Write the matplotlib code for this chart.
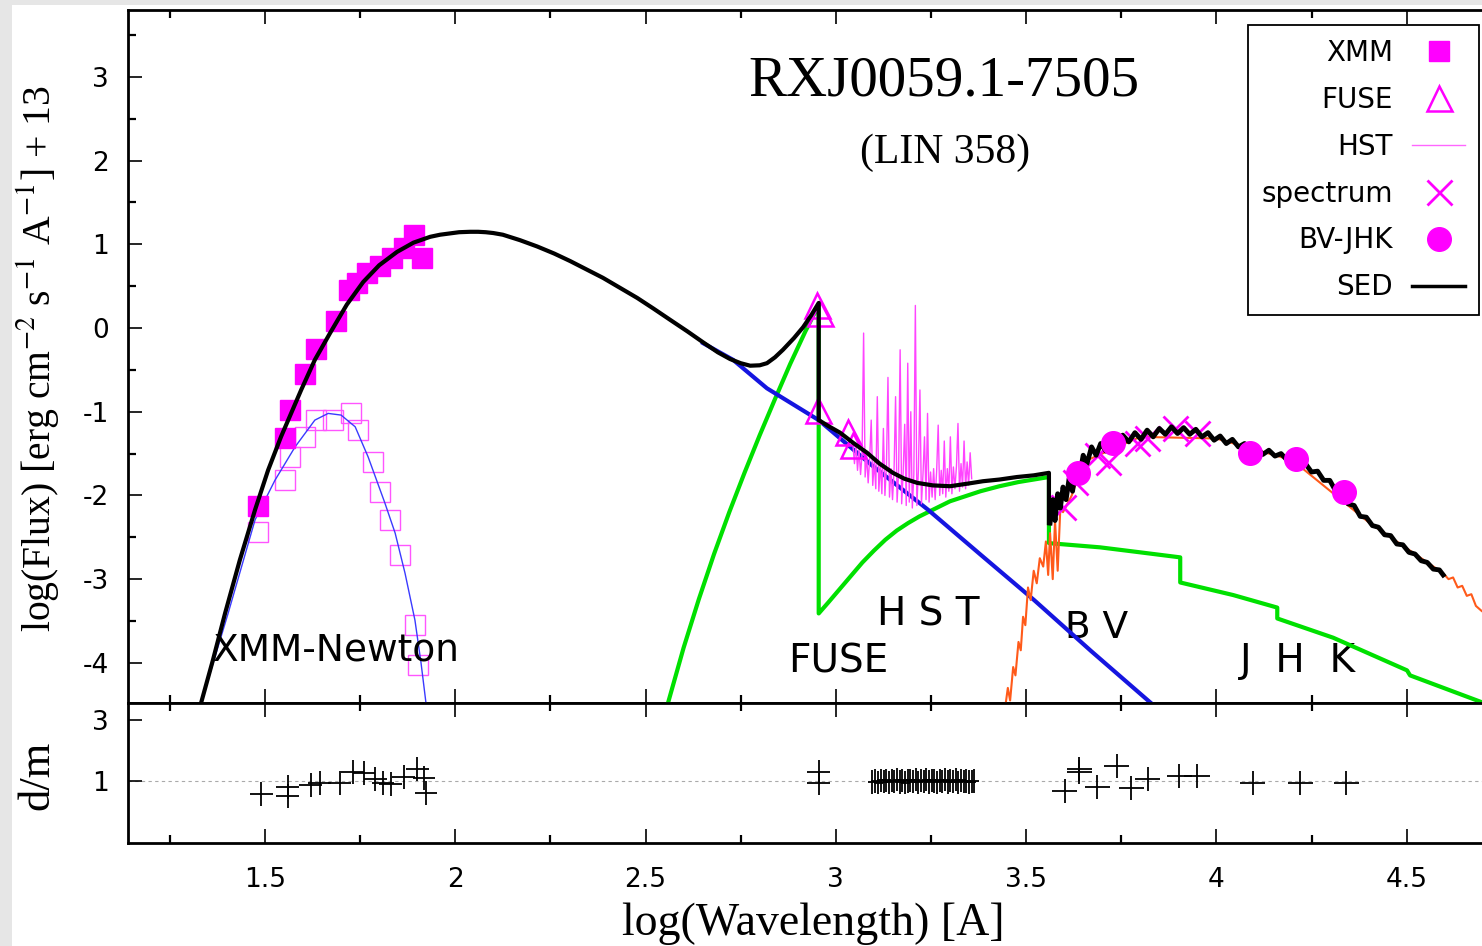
import matplotlib
matplotlib.use('Agg')
import matplotlib.pyplot as plt
from matplotlib.lines import Line2D
from matplotlib.patches import Rectangle
from matplotlib.ticker import MultipleLocator, NullLocator, FormatStrFormatter

plt.rcParams['font.family'] = ['DejaVu Sans']
plt.rcParams['axes.unicode_minus'] = False
plt.rcParams['mathtext.fontset'] = 'stix'

############################# Data #############################

# XMM points (filled = absorbed fit, open = observed)
xmm_x = [1.482, 1.553, 1.566, 1.605, 1.634, 1.687, 1.721, 1.742, 1.768, 1.802, 1.834, 1.865, 1.891, 1.913]
xmm_y = [-2.13, -1.31, -0.98, -0.55, -0.25, 0.08, 0.45, 0.54, 0.66, 0.74, 0.84, 0.96, 1.11, 0.84]
xmm_open_x = [1.482, 1.553, 1.566, 1.605, 1.634, 1.679, 1.726, 1.744, 1.784, 1.802, 1.829, 1.855, 1.894, 1.902]
xmm_open_y = [-2.44, -1.82, -1.54, -1.30, -1.10, -1.10, -1.02, -1.22, -1.60, -1.96, -2.29, -2.71, -3.55, -4.03]

# thin blue blackbody through the open XMM points
bb_x = [1.332, 1.403, 1.474, 1.526, 1.579, 1.631, 1.666, 1.700, 1.737, 1.771, 1.815, 1.842, 1.868, 1.894, 1.910, 1.923]
bb_y = [-4.48, -3.41, -2.29, -1.82, -1.42, -1.10, -1.02, -1.04, -1.18, -1.54, -2.09, -2.45, -2.93, -3.49, -4.00, -4.48]

# SED model (black)
sed_x = [1.332, 1.363, 1.395, 1.434, 1.474, 1.508, 1.542, 1.595, 1.631, 1.671, 1.715, 1.758, 1.800,
         1.847, 1.890, 1.934, 1.960, 1.985, 2.010, 2.039, 2.060, 2.080, 2.100, 2.125, 2.170, 2.215,
         2.260, 2.302, 2.345, 2.388, 2.433, 2.478, 2.520, 2.564, 2.610, 2.651, 2.690, 2.722, 2.750,
         2.775, 2.800, 2.819, 2.840, 2.861, 2.890, 2.914, 2.935, 2.955, 2.955, 2.980, 3.011, 3.045,
         3.082, 3.115, 3.150, 3.180, 3.214, 3.255, 3.300, 3.345, 3.387, 3.430, 3.476, 3.520, 3.560, 3.560]
sed_y = [-4.48, -3.97, -3.41, -2.77, -2.17, -1.70, -1.30, -0.74, -0.38, -0.06, 0.28, 0.55, 0.75,
         0.91, 1.02, 1.09, 1.115, 1.13, 1.145, 1.15, 1.15, 1.145, 1.135, 1.115, 1.05, 0.975,
         0.89, 0.80, 0.70, 0.60, 0.48, 0.36, 0.235, 0.10, -0.04, -0.17, -0.29, -0.37, -0.42,
         -0.45, -0.445, -0.42, -0.35, -0.26, -0.12, 0.01, 0.15, 0.30, -1.10, -1.17, -1.25, -1.37,
         -1.49, -1.62, -1.73, -1.80, -1.85, -1.88, -1.89, -1.86, -1.83, -1.81, -1.78, -1.76, -1.73, -2.33]

# hot component (blue)
hot_x = [2.651, 2.730, 2.819, 2.955, 3.092, 3.242, 3.381, 3.521, 3.671, 3.828]
hot_y = [-0.18, -0.38, -0.72, -1.10, -1.63, -2.17, -2.71, -3.25, -3.86, -4.48]

# nebular component (green)
neb_x = [2.559, 2.600, 2.640, 2.680, 2.720, 2.760, 2.800, 2.840, 2.880, 2.920, 2.955, 2.955,
         2.980, 3.010, 3.040, 3.070, 3.100, 3.130, 3.160, 3.190, 3.220, 3.260, 3.300, 3.340, 3.380,
         3.430, 3.480, 3.520, 3.560, 3.560, 3.694, 3.800, 3.905, 3.905, 4.044, 4.160, 4.160, 4.307,
         4.501, 4.509, 4.697]
neb_y = [-4.48, -3.82, -3.24, -2.70, -2.20, -1.73, -1.28, -0.85, -0.43, -0.04, 0.275, -3.41,
         -3.28, -3.12, -2.96, -2.80, -2.66, -2.53, -2.42, -2.33, -2.25, -2.16, -2.07, -2.01, -1.95,
         -1.89, -1.84, -1.81, -1.78, -2.57, -2.62, -2.68, -2.74, -3.04, -3.19, -3.34, -3.47, -3.70,
         -4.09, -4.15, -4.47]

# FUSE points
fuse_x = [2.951, 2.959, 2.953, 3.032, 3.045]
fuse_y = [0.27, 0.18, -0.98, -1.24, -1.40]

# HST spectrum
hst_x = [3.045, 3.049, 3.053, 3.057, 3.061, 3.065, 3.069, 3.073, 3.077, 3.081, 3.085, 3.089, 3.093,
         3.097, 3.101, 3.105, 3.109, 3.113, 3.117, 3.121, 3.125, 3.129, 3.133, 3.137, 3.141, 3.145,
         3.149, 3.153, 3.157, 3.161, 3.165, 3.169, 3.173, 3.177, 3.181, 3.185, 3.189, 3.193, 3.197,
         3.201, 3.205, 3.209, 3.213, 3.217, 3.221, 3.225, 3.229, 3.233, 3.237, 3.241, 3.245, 3.249,
         3.253, 3.257, 3.261, 3.265, 3.269, 3.273, 3.277, 3.281, 3.285, 3.289, 3.293, 3.297, 3.301,
         3.305, 3.309, 3.313, 3.317, 3.321, 3.325, 3.329, 3.333, 3.337, 3.341, 3.345, 3.349, 3.353, 3.357]
hst_y = [-1.40, -1.62, -1.38, -1.70, -1.45, -1.75, -1.50, -0.06, -1.78, -1.52, -1.85, -1.55, -1.10,
         -1.88, -1.60, -1.92, -0.82, -1.95, -1.62, -1.98, -1.20, -2.00, -1.65, -0.59, -2.02, -1.68,
         -2.05, -1.70, -0.82, -2.08, -1.72, -0.26, -2.10, -1.72, -1.15, -2.12, -0.42, -2.08, -1.00,
         -2.15, -1.75, 0.27, -2.12, -1.70, -0.74, -2.10, -1.75, -1.30, -2.05, -1.02, -2.08, -1.72,
         -2.02, -1.68, -2.05, -1.70, -1.16, -2.00, -1.70, -1.98, -1.35, -2.02, -1.68, -1.95, -1.30,
         -1.98, -1.66, -1.92, -1.65, -1.14, -1.95, -1.62, -1.90, -1.35, -1.92, -1.60, -1.88, -1.49, -1.80]

# optical/IR spectrum (black) and the extended one (orange)
opt_x = [3.563, 3.570, 3.576, 3.583, 3.590, 3.597, 3.605, 3.613, 3.622, 3.630, 3.640, 3.650, 3.660,
         3.672, 3.684, 3.696, 3.710, 3.724, 3.739, 3.754, 3.770, 3.786, 3.802, 3.818, 3.834, 3.850,
         3.866, 3.882, 3.898, 3.914, 3.930, 3.946, 3.962, 3.978, 3.994, 4.010, 4.026, 4.042, 4.058,
         4.074, 4.090, 4.106, 4.122, 4.138, 4.154, 4.170, 4.186, 4.202, 4.218, 4.234, 4.250, 4.266,
         4.282, 4.298, 4.314, 4.330, 4.346, 4.362, 4.378, 4.394, 4.410, 4.426, 4.442, 4.458, 4.474,
         4.490, 4.506, 4.522, 4.538, 4.554, 4.570, 4.586, 4.596]
opt_y = [-2.33, -2.05, -2.30, -1.98, -2.15, -1.90, -2.05, -1.80, -1.95, -1.70, -1.78, -1.52, -1.62,
         -1.42, -1.52, -1.38, -1.47, -1.33, -1.40, -1.28, -1.36, -1.25, -1.33, -1.22, -1.30, -1.20,
         -1.27, -1.18, -1.26, -1.19, -1.27, -1.21, -1.30, -1.25, -1.34, -1.29, -1.38, -1.33, -1.42,
         -1.38, -1.48, -1.43, -1.51, -1.46, -1.53, -1.50, -1.58, -1.55, -1.65, -1.62, -1.72, -1.71,
         -1.82, -1.82, -1.95, -1.98, -2.10, -2.12, -2.25, -2.26, -2.36, -2.38, -2.47, -2.48, -2.58,
         -2.59, -2.68, -2.70, -2.78, -2.80, -2.88, -2.89, -2.95]
red_x = [3.440, 3.452, 3.458, 3.466, 3.472, 3.480, 3.486, 3.492, 3.498, 3.505, 3.512, 3.520, 3.528,
         3.536, 3.545, 3.552, 3.558, 3.563, 3.570, 3.576, 3.583, 3.590, 3.597, 3.620, 3.650, 3.800,
         4.000, 4.200, 4.400, 4.596, 4.610, 4.622, 4.634, 4.646, 4.658, 4.670, 4.682, 4.697]
red_y = [-4.70, -4.30, -4.45, -4.05, -4.15, -3.75, -3.85, -3.45, -3.55, -3.10, -3.25, -2.90, -3.05,
         -2.75, -2.85, -2.55, -2.95, -2.45, -3.00, -2.30, -2.90, -2.15, -2.20, -2.00, -1.60, -1.30,
         -1.32, -1.58, -2.32, -2.93, -3.00, -2.98, -3.10, -3.08, -3.20, -3.18, -3.32, -3.38]

# spectrum synthetic points (x) and BV-JHK photometry (dots)
spec_x = [3.597, 3.629, 3.687, 3.716, 3.792, 3.818, 3.892, 3.949]
spec_y = [-2.14, -1.84, -1.52, -1.60, -1.37, -1.31, -1.19, -1.25]
phot_x = [3.637, 3.729, 4.089, 4.210, 4.336]
phot_y = [-1.73, -1.37, -1.49, -1.57, -1.96]

# d/m residuals
dm_xmm_x = [1.490, 1.560, 1.560, 1.620, 1.644, 1.696, 1.731, 1.760, 1.790, 1.810, 1.830, 1.865, 1.900, 1.918, 1.923]
dm_xmm_y = [0.57, 0.51, 0.80, 0.87, 0.93, 0.93, 1.30, 1.26, 1.07, 0.93, 0.90, 1.13, 1.39, 1.10, 0.61]
dm_fuse_x = [2.955, 2.955]
dm_fuse_y = [1.30, 0.94]
dm_hst_x = [3.096, 3.104, 3.112, 3.119, 3.126, 3.133, 3.140, 3.147, 3.154, 3.161, 3.168, 3.175, 3.182,
            3.189, 3.196, 3.203, 3.210, 3.217, 3.224, 3.231, 3.238, 3.245, 3.252, 3.259, 3.266, 3.273,
            3.280, 3.287, 3.294, 3.301, 3.308, 3.315, 3.322, 3.329, 3.336, 3.343, 3.350, 3.357, 3.364]
dm_hst_y = [0.97, 1.00, 0.95, 1.02, 0.98, 1.03, 0.96, 1.01, 0.99, 1.04, 0.97, 1.02, 0.95,
            1.00, 1.03, 0.98, 1.05, 0.96, 1.01, 0.99, 1.04, 0.97, 1.02, 1.00, 0.96, 1.03,
            0.99, 1.05, 0.97, 1.01, 0.98, 1.04, 0.96, 1.02, 0.99, 1.00, 0.97, 0.98, 1.00]
dm_opt_x = [3.602, 3.640, 3.640, 3.687, 3.738, 3.776, 3.820, 3.902, 3.949, 4.096, 4.220, 4.341]
dm_opt_y = [0.68, 1.39, 1.30, 0.81, 1.49, 0.77, 1.07, 1.16, 1.16, 0.93, 0.93, 0.94]

leg_labels = ['XMM', 'FUSE', 'HST', 'spectrum', 'BV-JHK', 'SED']

############################# Plot #############################

MAG = '#ff00ff'
W, H = 1482, 946
fig = plt.figure(figsize=(W / 100, H / 100), dpi=100)
fig.patch.set_facecolor('#e6e6e6')
fig.add_artist(Rectangle((12 / W, 0), 1, 1 - 5 / H, transform=fig.transFigure,
                         facecolor='white', edgecolor='none', zorder=-10))

ax = fig.add_axes([128 / W, 1 - 703 / H, 1 - 128 / W, (703 - 10) / H])
ax2 = fig.add_axes([128 / W, 1 - 843 / H, 1 - 128 / W, 140 / H], sharex=ax)

ax.plot(xmm_open_x, xmm_open_y, ls='none', marker='s', ms=15, mfc='none', mec='#ff55ff', mew=1, zorder=2)
ax.plot(bb_x, bb_y, color='#3a3aff', lw=1, zorder=3)
ax.plot(xmm_x, xmm_y, ls='none', marker='s', ms=14, color=MAG, zorder=3)
ax.plot(neb_x, neb_y, color='#00e000', lw=3, zorder=4)
ax.plot(hot_x, hot_y, color='#1515e0', lw=3, zorder=4)
ax.plot(hst_x, hst_y, color='#ff44ff', lw=1, zorder=5)
ax.plot(fuse_x, fuse_y, ls='none', marker='^', ms=18, mfc='none', mec=MAG, mew=1.8, zorder=5)
ax.plot(red_x, red_y, color='#ff5a1a', lw=1.5, zorder=5)
ax.plot(spec_x, spec_y, ls='none', marker='x', ms=18, mew=2, color=MAG, zorder=6)
ax.plot(opt_x, opt_y, color='black', lw=3.5, zorder=7)
ax.plot(sed_x, sed_y, color='black', lw=3, zorder=7)
ax.plot(phot_x, phot_y, ls='none', marker='o', ms=17, color=MAG, zorder=8)

ax.text(1.363, -3.97, 'XMM-Newton', fontsize=27, va='baseline')
ax.text(2.875, -4.12, 'FUSE', fontsize=28, va='baseline')
ax.text(3.108, -3.55, 'H S T', fontsize=28, va='baseline')
ax.text(3.602, -3.70, 'B V', fontsize=27, va='baseline')
ax.text(4.062, -4.11, 'J  H  K', fontsize=28, va='baseline')
ax.text(3.283, 2.784, 'RXJ0059.1-7505', fontsize=41, family='Liberation Serif', ha='center', va='baseline')
ax.text(3.288, 1.97, '(LIN 358)', fontsize=30, family='Liberation Serif', ha='center', va='baseline')

handles = [Line2D([], [], ls='none', marker='s', ms=14, color=MAG),
           Line2D([], [], ls='none', marker='^', ms=18, mfc='none', mec=MAG, mew=1.8),
           Line2D([], [], color='#ff66ff', lw=1),
           Line2D([], [], ls='none', marker='x', ms=18, mew=2, color=MAG),
           Line2D([], [], ls='none', marker='o', ms=17, color=MAG),
           Line2D([], [], color='black', lw=2.5)]
leg = ax.legend(handles, leg_labels, loc='upper right', bbox_to_anchor=(1479 / W, 1 - 25 / H),
                bbox_transform=fig.transFigure, markerfirst=False, fancybox=False, fontsize=20,
                handlelength=1.9, handletextpad=0.7, labelspacing=0.68, borderpad=0.5,
                borderaxespad=0, framealpha=1)
leg.get_frame().set_edgecolor('black')
leg.get_frame().set_linewidth(1.3)
leg.set_zorder(20)

eb = dict(fmt='none', ecolor='black', elinewidth=1.3, capsize=0)
ax2.axhline(1, color='#aaaaaa', lw=0.8, ls=(0, (3, 3)), zorder=1)
ax2.errorbar(dm_xmm_x, dm_xmm_y, xerr=0.03, yerr=0.4, **eb)
ax2.errorbar(dm_fuse_x, dm_fuse_y, xerr=0.03, yerr=0.4, **eb)
ax2.errorbar(dm_hst_x, dm_hst_y, xerr=0.012, yerr=0.38, **eb)
ax2.errorbar(dm_opt_x, dm_opt_y, xerr=0.033, yerr=0.4, **eb)

ax.set_xlim(1.14, 4.698)
ax.set_ylim(-4.48, 3.8)
ax2.set_ylim(-1.03, 3.56)
for a in (ax, ax2):
    a.spines['right'].set_visible(False)
    for s in ('left', 'top', 'bottom'):
        a.spines[s].set_linewidth(2)
    a.xaxis.set_major_locator(MultipleLocator(0.5))
    a.xaxis.set_minor_locator(MultipleLocator(0.25))
    a.xaxis.set_major_formatter(FormatStrFormatter('%g'))
    a.tick_params(which='both', direction='in', top=True, bottom=True, right=False)
    a.tick_params(which='major', length=10, width=1.2, labelsize=19, pad=14)
    a.tick_params(which='minor', length=6, width=1.6)
ax.set_yticks([-4, -3, -2, -1, 0, 1, 2, 3])
ax.yaxis.set_minor_locator(MultipleLocator(0.5))
ax.tick_params(labelbottom=False)
ax2.set_yticks([1, 3])
ax2.yaxis.set_minor_locator(NullLocator())
ax2.tick_params(axis='x', pad=17)

fig.text(38 / W, 1 - 359 / H, 'log(Flux) [erg cm$^{-2}$ s$^{-1}$ A$^{-1}$] + 13', rotation=90,
         fontsize=28.5, family='Liberation Serif', ha='center', va='center')
fig.text(37 / W, 1 - 775 / H, 'd/m', rotation=90, fontsize=32, family='Liberation Serif',
         ha='center', va='center')
fig.text(813 / W, 1 - 924 / H, 'log(Wavelength) [A]', fontsize=33, family='Liberation Serif',
         ha='center', va='center')

fig.savefig('out.png', dpi=100, facecolor=fig.get_facecolor())
